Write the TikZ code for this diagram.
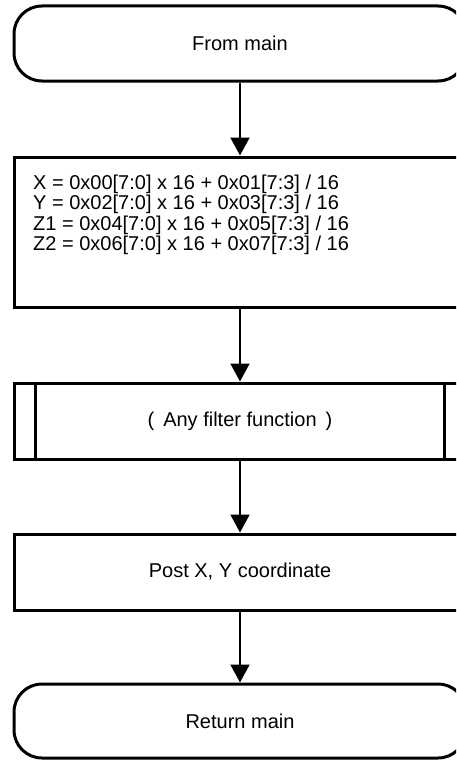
\documentclass[tikz,border=0pt]{standalone}
\usepackage{fontspec}
\setmainfont{Liberation Sans}
\usetikzlibrary{arrows.meta,calc}
\begin{document}
\begin{tikzpicture}[x=1pt,y=-1pt,
  shapebox/.style={draw=black, line width=3pt, fill=white, minimum width=452pt, inner sep=0pt},
  termbox/.style={shapebox, rounded corners=28pt},
  flow/.style={draw=black, line width=2pt, -{Triangle[length=18pt,width=19pt]}},
  sideline/.style={draw=black, line width=2.5pt},
  font=\fontsize{20}{20.5}\selectfont]
\useasboundingbox (0,0) rectangle (456,760);
\clip (0,0) rectangle (456,760);
\fill[white] (0,0) rectangle (456,760);

\node[termbox, minimum height=75pt] (t1) at (240,43.5) {From main};
\node[shapebox, minimum height=150pt] (b2) at (240,232) {};
\node[anchor=west, align=left, inner sep=0pt] (b2text) at (33,215)
  {X = 0x00[7:0] x 16 + 0x01[7:3] / 16\\
   Y = 0x02[7:0] x 16 + 0x03[7:3] / 16\\
   Z1 = 0x04[7:0] x 16 + 0x05[7:3] / 16\\
   Z2 = 0x06[7:0] x 16 + 0x07[7:3] / 16};
\node[shapebox, minimum height=76pt] (b3) at (240,421) {(\hspace{0.45em}Any filter function\hspace{0.45em})};
\draw[sideline] ([xshift=23pt]b3.north west) -- ([xshift=23pt]b3.south west);
\draw[sideline] ([xshift=-23pt]b3.north east) -- ([xshift=-23pt]b3.south east);
\node[shapebox, minimum height=76pt] (b4) at (240,572) {Post X, Y coordinate};
\node[termbox, minimum height=74pt] (t2) at (240,721) {Return main};

\draw[flow] (t1) -- (b2);
\draw[flow] (b2) -- (b3);
\draw[flow] (b3) -- (b4);
\draw[flow] (b4) -- (t2);
\end{tikzpicture}
\end{document}
